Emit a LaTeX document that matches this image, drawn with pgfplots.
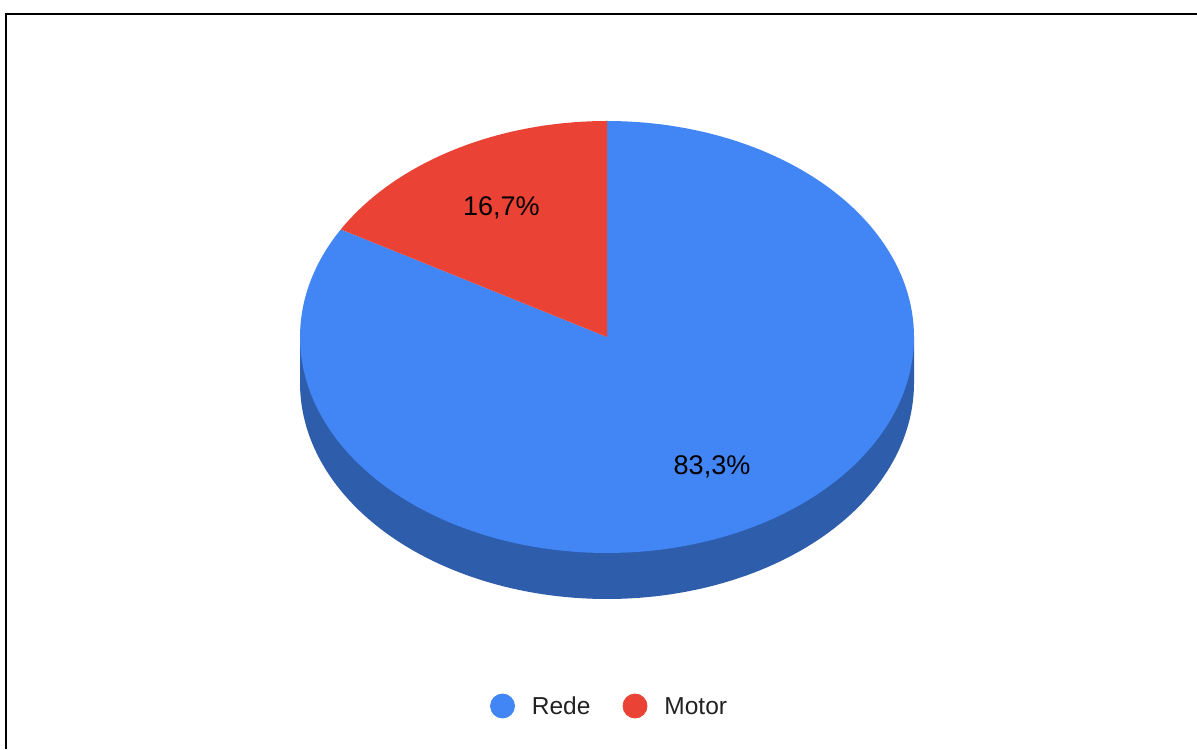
\documentclass[border=0pt]{standalone}
\usepackage{pgfplots}
\pgfplotsset{compat=1.18}
\usepackage{pgfplotstable}
\usepackage{fontspec}
\setmainfont{Liberation Sans}
\definecolor{pieBlue}{HTML}{4285F4}
\definecolor{pieRed}{HTML}{EA4335}
\definecolor{pieSide}{HTML}{2E5DAB}
\definecolor{legText}{HTML}{222222}

\pgfplotstableread{
label value
Rede 83.3
Motor 16.7
}\piedata

\begin{document}%
\begin{tikzpicture}
\pgfplotstablegetelem{0}{value}\of\piedata \let\vRede\pgfplotsretval
\pgfplotstablegetelem{1}{value}\of\piedata \let\vMotor\pgfplotsretval
\pgfmathsetmacro\aStart{90}
\pgfmathsetmacro\aMotorEnd{90+3.6*\vMotor}
\pgfmathsetmacro\aRedeEnd{\aMotorEnd+3.6*\vRede}
\begin{axis}[x=0.5pt, y=0.5pt, xmin=0, xmax=1197, ymin=0, ymax=749,
  hide axis, clip=false]
% side (depth) of the pie
\addplot[fill=pieSide, draw=none, domain=180:360, samples=121, variable=\t]
  ({607+307*cos(\t)}, {366+216*sin(\t)})
  -- (axis cs:914,412) -- (axis cs:300,412) -- cycle;
% Rede slice
\addplot[fill=pieBlue, draw=none, domain=\aMotorEnd:\aRedeEnd, samples=181, variable=\t]
  ({607+307*cos(\t)}, {412+216*sin(\t)}) -- (axis cs:607,412) -- cycle;
% Motor slice
\addplot[fill=pieRed, draw=none, domain=\aStart:\aMotorEnd, samples=41, variable=\t]
  ({607+307*cos(\t)}, {412+216*sin(\t)}) -- (axis cs:607,412) -- cycle;
% slice labels
\node[anchor=base, font=\fontsize{13.5}{16}\selectfont, text=black] at (axis cs:501.3,533) {16,7\%};
\node[anchor=base, font=\fontsize{13.5}{16}\selectfont, text=black] at (axis cs:712,274) {83,3\%};
% legend
\addplot[only marks, mark=*, mark size=6pt, color=pieBlue] coordinates {(502.5,43)};
\addplot[only marks, mark=*, mark size=6pt, color=pieRed] coordinates {(635,43)};
\node[anchor=base west, inner sep=0pt, font=\fontsize{12.25}{15}\selectfont, text=legText] at (axis cs:531.5,35) {Rede};
\node[anchor=base west, inner sep=0pt, font=\fontsize{12.25}{15}\selectfont, text=legText] at (axis cs:664,35) {Motor};
% frame
\draw[line width=1pt, black] (axis cs:6,0) -- (axis cs:6,735) -- (axis cs:1197,735);
\end{axis}
\pgfresetboundingbox
\useasboundingbox (current axis.south west) rectangle (current axis.north east);
\end{tikzpicture}%
\end{document}
